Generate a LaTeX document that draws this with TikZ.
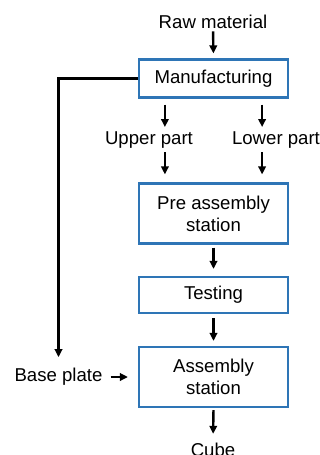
\documentclass[tikz,border=0pt]{standalone}
\usepackage{fontspec}
\setmainfont{Liberation Sans}
\usetikzlibrary{calc,positioning,arrows.meta}
\definecolor{boxblue}{RGB}{46,117,182}
\tikzset{
  stage/.style={draw=boxblue, line width=2.2pt, fill=white, minimum width=149pt, inner sep=0pt, align=center},
  lbl/.style={inner sep=0pt},
  flow/.style={line width=2.4pt, -{Triangle[length=8pt,width=7.5pt]}},
  every node/.append style={font=\fontsize{18.6}{21.7}\selectfont}
}
\begin{document}
\begin{tikzpicture}[x=1pt,y=-1pt]
  \useasboundingbox (0,0) rectangle (320,455);
  \node[lbl, anchor=base] (raw) at (213,28) {Raw material};
  \node[stage, minimum height=38pt] (manu) at (213.5,78.5) {Manufacturing};
  \node[lbl, anchor=base] (upper) at (149,144) {Upper part};
  \node[lbl, anchor=base] (lower) at (276,144) {Lower part};
  \node[stage, minimum height=60pt] (pre) at (213.5,213.5) {Pre assembly\\station};
  \node[stage, minimum height=36pt] (test) at (213.5,295) {Testing};
  \node[stage, minimum height=60pt] (asm) at (213.5,377) {Assembly\\station};
  \node[lbl] (base) at (58.5,377) {Base plate};
  \node[lbl, anchor=base] (cube) at (213,456.5) {Cube};
  % main line
  \draw[flow, shorten <=3pt, shorten >=5pt] (raw.south) -- (manu.north);
  \draw[flow, shorten <=6pt, shorten >=4pt] ([xshift=27pt]manu.south west) -- ([xshift=27pt]manu.south west |- upper.north);
  \draw[flow, shorten <=6pt, shorten >=4pt] ([xshift=-27pt]manu.south east) -- ([xshift=-27pt]manu.south east |- lower.north);
  \draw[flow, shorten <=4pt, shorten >=8pt] ([xshift=27pt]pre.north west |- upper.south) -- ([xshift=27pt]pre.north west);
  \draw[flow, shorten <=4pt, shorten >=8pt] ([xshift=-27pt]pre.north east |- lower.south) -- ([xshift=-27pt]pre.north east);
  \draw[flow, shorten <=3pt, shorten >=7pt] (pre.south) -- (test.north);
  \draw[flow, shorten <=4pt, shorten >=5pt] (test.south) -- (asm.north);
  \draw[flow, shorten <=2pt, shorten >=9pt] (asm.south) -- (cube.north);
  % side feed
  \draw[flow, shorten >=11pt] (manu.west) -| (base.north);
  \draw[flow, shorten <=8pt, shorten >=10pt] (base.east) -- (base.east -| asm.west);
\end{tikzpicture}
\end{document}
